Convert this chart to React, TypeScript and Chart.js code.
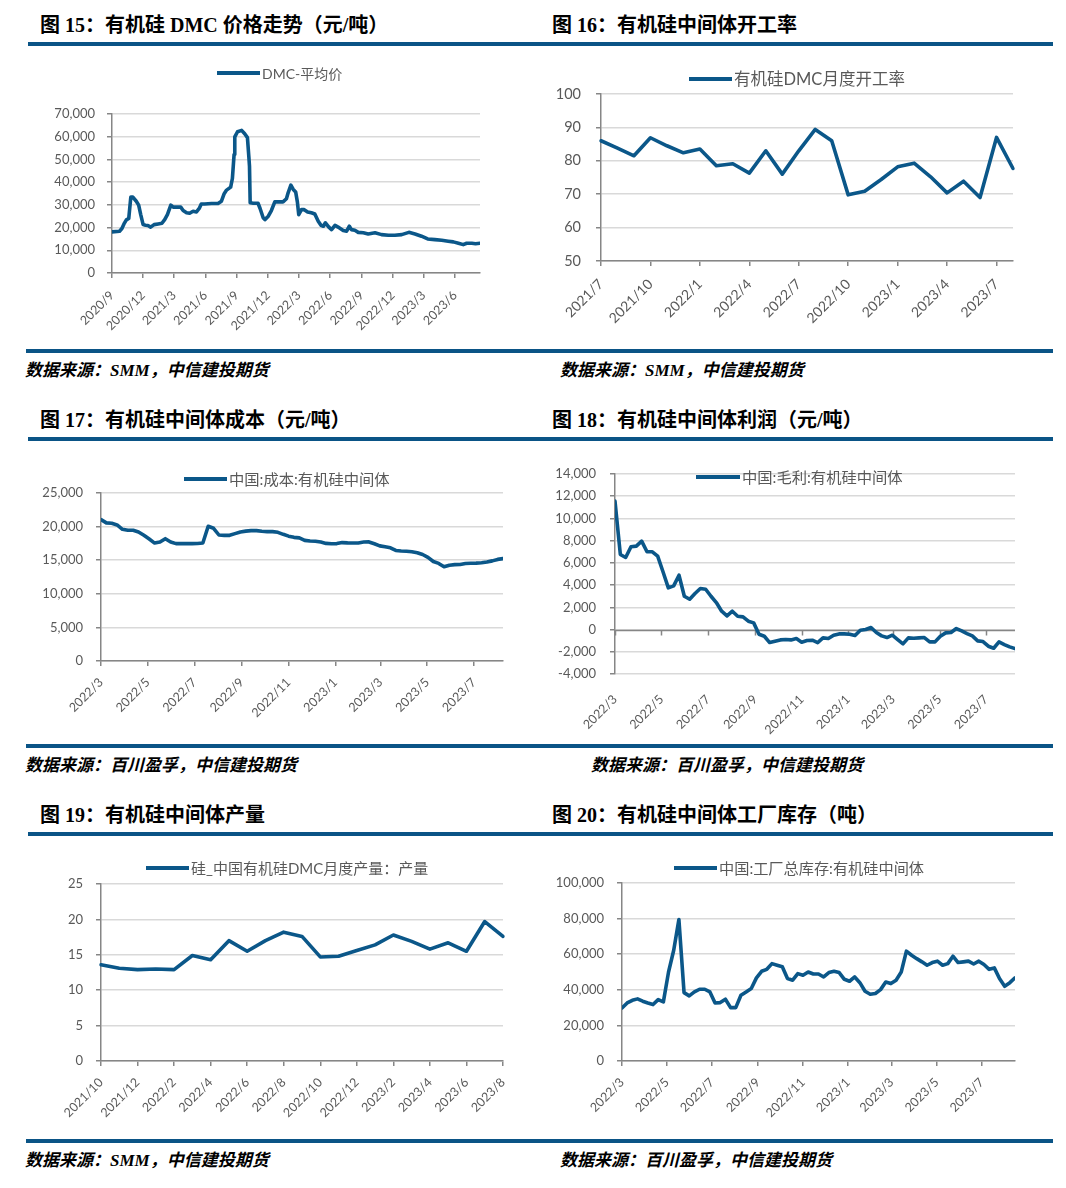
import { useEffect, useRef } from 'react';
import { Chart, registerables } from 'chart.js';

Chart.register(...registerables);

// ---------------- DATA ----------------
// Fig 15: DMC average price (yuan/ton); days counted from DMC_START
const DMC_START = '2020-09-01';
const dmcDays = [0, 22, 29, 35, 42, 49, 55, 61, 71, 78, 84, 91, 98, 105, 113, 123, 135, 146, 154, 162, 172, 179, 188, 201, 208, 218, 227, 237, 247, 255, 261, 271, 291, 310, 320, 328, 335, 347, 352, 357, 359, 367, 379, 388, 396, 400, 402, 404, 413, 427, 433, 442, 447, 457, 466, 476, 486, 500, 510, 515, 523, 530, 537, 542, 546, 554, 562, 572, 583, 593, 603, 611, 618, 624, 634, 642, 652, 661, 676, 686, 694, 700, 710, 720, 735, 749, 769, 788, 808, 827, 847, 868, 886, 905, 923, 944, 964, 983, 998, 1013, 1027, 1037, 1052, 1063, 1076];
const dmcValues = [18100, 18400, 19600, 21600, 23400, 24000, 33400, 33400, 31600, 29900, 25700, 21300, 21000, 20900, 20200, 21300, 21600, 21900, 23500, 25700, 29900, 29000, 29000, 29000, 27500, 26500, 26300, 27200, 26900, 28400, 30400, 30400, 30600, 30600, 31600, 34900, 36500, 37800, 41600, 52200, 59900, 62200, 62800, 61300, 59600, 51500, 47100, 30900, 30700, 30700, 28400, 24300, 23500, 25000, 27500, 31300, 31300, 31300, 32700, 35300, 38700, 36800, 35700, 31300, 25700, 27900, 27900, 26900, 26500, 26000, 22800, 21000, 20600, 22100, 20200, 19100, 21000, 20200, 18700, 18400, 20600, 19100, 18800, 17900, 17700, 17200, 17700, 16900, 16600, 16600, 16900, 17900, 17200, 16200, 15000, 14700, 14400, 14000, 13700, 13100, 12500, 13100, 13100, 12900, 13100];

// Fig 16: monthly operating rate (%)
const rateMonths = ['2021/7', '2021/8', '2021/9', '2021/10', '2021/11', '2021/12', '2022/1', '2022/2', '2022/3', '2022/4', '2022/5', '2022/6', '2022/7', '2022/8', '2022/9', '2022/10', '2022/11', '2022/12', '2023/1', '2023/2', '2023/3', '2023/4', '2023/5', '2023/6', '2023/7', '2023/8'];
const rateValues = [86, 83.8, 81.5, 86.9, 84.5, 82.4, 83.5, 78.5, 79.1, 76.3, 83, 76, 83, 89.4, 86, 69.8, 70.9, 74.4, 78.2, 79.3, 75.2, 70.4, 73.9, 69, 87, 77.7];

// Fig 17: weekly cost (yuan/ton)
const COST_START = '2022-03-01';
const costValues = [21040, 20550, 20500, 20250, 19600, 19450, 19450, 19200, 18700, 18150, 17550, 17700, 18200, 17720, 17470, 17470, 17470, 17470, 17480, 17570, 20050, 19750, 18750, 18700, 18700, 18950, 19200, 19330, 19400, 19400, 19300, 19250, 19250, 19150, 18850, 18580, 18400, 18320, 17950, 17850, 17820, 17700, 17500, 17450, 17470, 17620, 17580, 17570, 17570, 17700, 17720, 17450, 17130, 17000, 16850, 16450, 16380, 16340, 16260, 16120, 15850, 15420, 14800, 14520, 14020, 14260, 14340, 14360, 14520, 14550, 14560, 14620, 14720, 14900, 15120, 15240];

// Fig 18: weekly gross profit (yuan/ton)
const PROFIT_START = '2022-03-01';
const profitValues = [11560, 6760, 6490, 7450, 7510, 7960, 7000, 7000, 6610, 5200, 3750, 3930, 4890, 3000, 2730, 3240, 3690, 3630, 3000, 2430, 1650, 1230, 1650, 1200, 1140, 750, 600, -420, -600, -1170, -1050, -930, -900, -930, -810, -1140, -990, -960, -1170, -750, -810, -510, -390, -390, -420, -540, -60, 0, 180, -270, -570, -720, -510, -900, -1290, -750, -780, -750, -720, -1110, -1110, -600, -300, -270, 90, -120, -360, -570, -1020, -1080, -1500, -1680, -1110, -1350, -1560, -1710];

// Fig 19: monthly DMC output
const outputMonths = ['2021/10', '2021/11', '2021/12', '2022/1', '2022/2', '2022/3', '2022/4', '2022/5', '2022/6', '2022/7', '2022/8', '2022/9', '2022/10', '2022/11', '2022/12', '2023/1', '2023/2', '2023/3', '2023/4', '2023/5', '2023/6', '2023/7', '2023/8'];
const outputValues = [13.6, 13.1, 12.9, 13.0, 12.9, 14.9, 14.3, 17.0, 15.5, 17.0, 18.2, 17.6, 14.7, 14.8, 15.6, 16.4, 17.8, 16.9, 15.8, 16.7, 15.5, 19.7, 17.6];

// Fig 20: weekly factory inventory (ton)
const INV_START = '2022-03-01';
const invValues = [29800, 32600, 34100, 34900, 33600, 32600, 31700, 34500, 33200, 50000, 62200, 79500, 38400, 36600, 38800, 40300, 40300, 38800, 32600, 32800, 34700, 30000, 30000, 36900, 38800, 40700, 46700, 50400, 51500, 54700, 53800, 52900, 46300, 45400, 49100, 48200, 50000, 48900, 48900, 47200, 49700, 50400, 49700, 45900, 44800, 47200, 44000, 39200, 37500, 37900, 40100, 44400, 43500, 45400, 50000, 61700, 59400, 57500, 55700, 53800, 55300, 56100, 53800, 54700, 58900, 55300, 55700, 56100, 54500, 56100, 54200, 51500, 52300, 46300, 42000, 44000, 46700];

// ---------------- STYLE ----------------
const BLUE = '#0B5789';
const RULE = '#0A5486';
const AXIS = '#868686';
const GRID = '#D9D9D9';
const TXT = '#595959';
const FONT = 'Lato, "Noto Sans CJK SC", sans-serif';
const TITLE_FONT = '"Liberation Serif", "Noto Sans CJK SC", serif';

function dayNum(s: string) {
  const [y, m, d] = s.split('-').map(Number);
  return Date.UTC(y, m - 1, d) / 86400000;
}
function monthStarts(y0: number, m0: number, count: number, step: number) {
  const out: number[] = [];
  for (let i = 0; i < count; i++) {
    const k = m0 - 1 + i * step;
    out.push(Date.UTC(y0 + Math.floor(k / 12), k % 12, 1) / 86400000);
  }
  return out;
}
function fmtDay(v: number) {
  const d = new Date(v * 86400000);
  return `${d.getUTCFullYear()}/${d.getUTCMonth() + 1}`;
}
const weekly = (start: string, vals: number[]) => vals.map((v, i) => ({ x: dayNum(start) + 7 * i, y: v }));

type Rect = { x: number; y: number; w: number; h: number };
type Area = { l: number; t: number; r: number; b: number };
type Spec = {
  box: Rect;
  area: Area;
  label: string;
  xKind: 'linear' | 'category';
  labels?: string[];
  data: any[];
  xMin?: number;
  xMax?: number;
  xTicks?: number[];
  catStep?: number;
  yMin: number;
  yMax: number;
  yStep: number;
  yFont: number;
  xFont: number;
  yPad: number;
  xPad: number;
  legend: { x: number; y: number; len: number; size: number };
  zeroAxis?: boolean;
};

const legendPlugin = {
  id: 'lineLegend',
  afterDatasetsDraw(chart: any, _args: any, opts: any) {
    const { ctx } = chart;
    const ds = chart.data.datasets[0];
    ctx.save();
    ctx.strokeStyle = ds.borderColor;
    ctx.lineWidth = 4;
    ctx.beginPath();
    ctx.moveTo(opts.x, opts.y);
    ctx.lineTo(opts.x + opts.len, opts.y);
    ctx.stroke();
    ctx.font = `${opts.size}px ${FONT}`;
    ctx.fillStyle = TXT;
    ctx.textAlign = 'left';
    ctx.textBaseline = 'middle';
    ctx.fillText(ds.label, opts.x + opts.len + 2, opts.y + 1);
    ctx.restore();
  },
};

const zeroAxisPlugin = {
  id: 'zeroAxis',
  beforeDatasetsDraw(chart: any, _args: any, opts: any) {
    if (!opts || !opts.on) return;
    const { ctx, chartArea } = chart;
    const y = Math.round(chart.scales.y.getPixelForValue(0)) + 0.5;
    const xs = chart.scales.x;
    ctx.save();
    ctx.strokeStyle = AXIS;
    ctx.lineWidth = 1.5;
    ctx.beginPath();
    ctx.moveTo(chartArea.left, y);
    ctx.lineTo(chartArea.right, y);
    xs.ticks.forEach((t: any) => {
      const px = Math.round(xs.getPixelForValue(t.value)) + 0.5;
      ctx.moveTo(px, y);
      ctx.lineTo(px, y + 5);
    });
    ctx.stroke();
    ctx.restore();
  },
};

function buildConfig(s: Spec): any {
  const { box, area } = s;
  const xScale: any = {
    type: s.xKind,
    offset: false,
    afterFit: (sc: any) => {
      sc.height = box.y + box.h - area.b;
    },
    grid: {
      display: !s.zeroAxis,
      drawOnChartArea: false,
      drawTicks: true,
      tickLength: 5,
      tickColor: AXIS,
      color: AXIS,
      lineWidth: 1.5,
    },
    border: { display: !s.zeroAxis, color: AXIS, width: 1.5 },
    ticks: {
      autoSkip: false,
      maxRotation: 45,
      minRotation: 45,
      padding: s.xPad,
      color: TXT,
      font: { family: FONT, size: s.xFont },
    },
  };
  if (s.xKind === 'linear') {
    xScale.min = s.xMin;
    xScale.max = s.xMax;
    xScale.afterBuildTicks = (sc: any) => {
      sc.ticks = (s.xTicks || []).map((v) => ({ value: v }));
    };
    xScale.ticks.callback = (v: number) => fmtDay(v);
  } else {
    const step = s.catStep || 1;
    xScale.afterBuildTicks = (sc: any) => {
      sc.ticks = sc.ticks.filter((t: any) => t.value % step === 0);
    };
  }
  return {
    type: 'line',
    data: {
      labels: s.labels,
      datasets: [
        {
          label: s.label,
          data: s.data,
          borderColor: BLUE,
          backgroundColor: BLUE,
          borderWidth: 3.6,
          pointRadius: 0,
          tension: 0,
          fill: false,
          borderJoinStyle: 'round',
          borderCapStyle: 'round',
        },
      ],
    },
    options: {
      animation: false,
      responsive: false,
      maintainAspectRatio: false,
      events: [],
      layout: { padding: { left: 0, top: area.t - box.y, right: box.x + box.w - area.r, bottom: 0 } },
      plugins: {
        legend: { display: false },
        tooltip: { enabled: false },
        title: { display: false },
        lineLegend: { x: s.legend.x - box.x, y: s.legend.y - box.y, len: s.legend.len, size: s.legend.size },
        zeroAxis: { on: !!s.zeroAxis },
      },
      scales: {
        x: xScale,
        y: {
          type: 'linear',
          min: s.yMin,
          max: s.yMax,
          afterFit: (sc: any) => {
            sc.width = area.l - box.x;
          },
          grid: { color: GRID, lineWidth: 1.5, drawTicks: true, tickLength: 5, tickColor: AXIS },
          border: { color: AXIS, width: 1.5 },
          ticks: {
            stepSize: s.yStep,
            padding: s.yPad,
            color: TXT,
            font: { family: FONT, size: s.yFont },
            callback: (v: number) => Number(v).toLocaleString('en-US'),
          },
        },
      },
    },
    plugins: [legendPlugin, zeroAxisPlugin],
  };
}

// ---------------- PANELS ----------------
const specs: Spec[] = [
  {
    box: { x: 28, y: 50, w: 500, h: 292 },
    area: { l: 112, t: 114, r: 480, b: 273 },
    label: 'DMC-平均价',
    xKind: 'linear',
    data: dmcDays.map((d, i) => ({ x: dayNum(DMC_START) + d, y: dmcValues[i] })),
    xMin: dayNum(DMC_START),
    xMax: dayNum(DMC_START) + dmcDays[dmcDays.length - 1],
    xTicks: monthStarts(2020, 9, 12, 3),
    yMin: 0, yMax: 70000, yStep: 10000,
    yFont: 13, xFont: 12.5, yPad: 12, xPad: 10,
    legend: { x: 217, y: 73, len: 43, size: 14 },
  },
  {
    box: { x: 535, y: 50, w: 520, h: 292 },
    area: { l: 601, t: 94, r: 1013, b: 261 },
    label: '有机硅DMC月度开工率',
    xKind: 'category',
    labels: rateMonths,
    data: rateValues,
    catStep: 3,
    yMin: 50, yMax: 100, yStep: 10,
    yFont: 14.5, xFont: 14, yPad: 15, xPad: 10,
    legend: { x: 689, y: 79, len: 43, size: 16.5 },
  },
  {
    box: { x: 28, y: 445, w: 500, h: 292 },
    area: { l: 101, t: 493, r: 503, b: 661 },
    label: '中国:成本:有机硅中间体',
    xKind: 'linear',
    data: weekly(COST_START, costValues),
    xMin: dayNum(COST_START),
    xMax: dayNum(COST_START) + 7 * (costValues.length - 1),
    xTicks: monthStarts(2022, 3, 9, 2),
    yMin: 0, yMax: 25000, yStep: 5000,
    yFont: 13, xFont: 12.5, yPad: 13, xPad: 9,
    legend: { x: 184, y: 479, len: 43, size: 15.3 },
  },
  {
    box: { x: 535, y: 445, w: 520, h: 292 },
    area: { l: 615, t: 474, r: 1015, b: 674 },
    label: '中国:毛利:有机硅中间体',
    xKind: 'linear',
    data: weekly(PROFIT_START, profitValues),
    xMin: dayNum(PROFIT_START),
    xMax: dayNum(PROFIT_START) + 7 * (profitValues.length - 1),
    xTicks: monthStarts(2022, 3, 9, 2),
    yMin: -4000, yMax: 14000, yStep: 2000,
    yFont: 13, xFont: 12.5, yPad: 14, xPad: 13,
    legend: { x: 696, y: 477, len: 44, size: 15.3 },
    zeroAxis: true,
  },
  {
    box: { x: 28, y: 840, w: 500, h: 292 },
    area: { l: 101, t: 884, r: 503, b: 1061 },
    label: '硅_中国有机硅DMC月度产量：产量',
    xKind: 'category',
    labels: outputMonths,
    data: outputValues,
    catStep: 2,
    yMin: 0, yMax: 25, yStep: 5,
    yFont: 13, xFont: 12.5, yPad: 13, xPad: 9,
    legend: { x: 146, y: 868, len: 43, size: 15 },
  },
  {
    box: { x: 535, y: 840, w: 520, h: 292 },
    area: { l: 622, t: 883, r: 1015, b: 1061 },
    label: '中国:工厂总库存:有机硅中间体',
    xKind: 'linear',
    data: weekly(INV_START, invValues),
    xMin: dayNum(INV_START),
    xMax: dayNum(INV_START) + 7 * (invValues.length - 1),
    xTicks: monthStarts(2022, 3, 9, 2),
    yMin: 0, yMax: 100000, yStep: 20000,
    yFont: 13, xFont: 12.5, yPad: 13, xPad: 9,
    legend: { x: 674, y: 868, len: 43, size: 15.2 },
  },
];

const titles = [
  { text: '图 15：有机硅 DMC 价格走势（元/吨）', x: 40, y: 25 },
  { text: '图 16：有机硅中间体开工率', x: 552, y: 25 },
  { text: '图 17：有机硅中间体成本（元/吨）', x: 40, y: 420 },
  { text: '图 18：有机硅中间体利润（元/吨）', x: 552, y: 420 },
  { text: '图 19：有机硅中间体产量', x: 40, y: 815 },
  { text: '图 20：有机硅中间体工厂库存（吨）', x: 552, y: 815 },
];
const sources = [
  { text: '数据来源：SMM，中信建投期货', x: 25, y: 370 },
  { text: '数据来源：SMM，中信建投期货', x: 560, y: 370 },
  { text: '数据来源：百川盈孚，中信建投期货', x: 25, y: 765 },
  { text: '数据来源：百川盈孚，中信建投期货', x: 591, y: 765 },
  { text: '数据来源：SMM，中信建投期货', x: 25, y: 1160 },
  { text: '数据来源：百川盈孚，中信建投期货', x: 560, y: 1160 },
];
const topRules = [42, 437, 832];
const bottomRules = [349, 744, 1139];

function ChartPanel({ spec }: { spec: Spec }) {
  const ref = useRef<HTMLCanvasElement>(null);
  useEffect(() => {
    const chart = new Chart(ref.current as HTMLCanvasElement, buildConfig(spec));
    return () => chart.destroy();
  }, [spec]);
  return (
    <canvas
      ref={ref}
      width={spec.box.w}
      height={spec.box.h}
      style={{ position: 'absolute', left: spec.box.x, top: spec.box.y, width: spec.box.w, height: spec.box.h }}
    />
  );
}

export default function App() {
  return (
    <div style={{ position: 'absolute', left: 0, top: 0, width: 1066, height: 1188, background: '#fff', overflow: 'hidden' }}>
      {titles.map((t, i) => (
        <div
          key={'t' + i}
          style={{
            position: 'absolute', left: t.x, top: t.y - 16, height: 24, lineHeight: '24px',
            font: `bold 20px ${TITLE_FONT}`, color: '#000', whiteSpace: 'nowrap',
          }}
        >
          {t.text}
        </div>
      ))}
      {topRules.map((y, i) => (
        <div key={'r' + i} style={{ position: 'absolute', left: 28, top: y, width: 1025, height: 4, background: RULE }} />
      ))}
      {bottomRules.map((y, i) => (
        <div key={'b' + i} style={{ position: 'absolute', left: 26, top: y, width: 1027, height: 4, background: RULE }} />
      ))}
      {sources.map((t, i) => (
        <div
          key={'s' + i}
          style={{
            position: 'absolute', left: t.x, top: t.y - 14, height: 22, lineHeight: '22px',
            font: `italic bold 17px ${TITLE_FONT}`, color: '#000', whiteSpace: 'nowrap',
          }}
        >
          {t.text}
        </div>
      ))}
      {specs.map((s, i) => (
        <ChartPanel key={'c' + i} spec={s} />
      ))}
    </div>
  );
}
